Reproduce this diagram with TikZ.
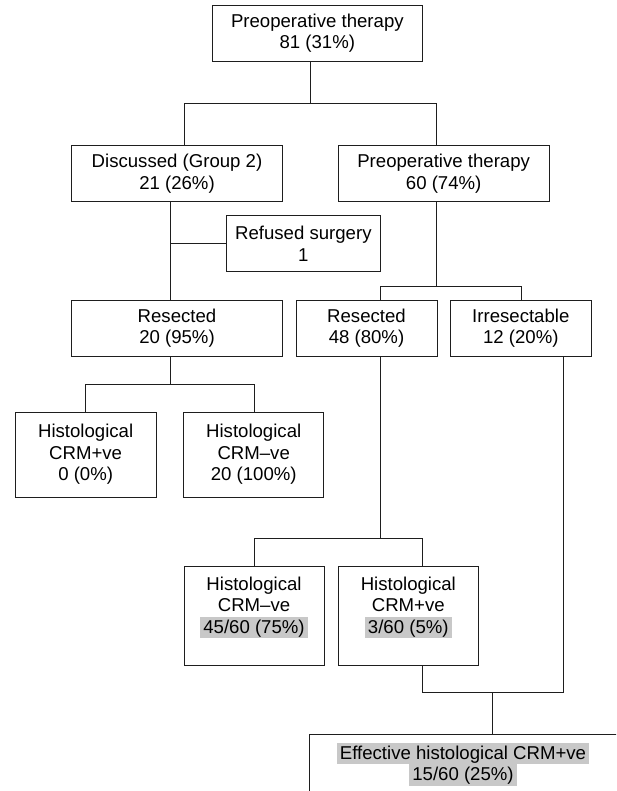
\documentclass[tikz,border=0pt]{standalone}
\usepackage{fontspec}
\setmainfont{Liberation Sans}
\usepackage{xcolor}
\usepackage{tikz}
\usetikzlibrary{calc}
\definecolor{boxline}  {RGB}{30,  30,  30}
\definecolor{shadegray}{RGB}{200, 200, 200}
\newcommand{\shadenum}[1]{{\setlength{\fboxsep}{0pt}\colorbox{shadegray}{\rule[-5pt]{0pt}{21.5pt}\kern3pt#1\kern3pt}}}
\tikzset{
  crmbox/.style={
    rectangle, draw=boxline, line width=0.9pt,
    inner sep=0pt, align=center,
    font=\fontsize{18.6}{21.5}\selectfont
  },
  crmtext/.style={
    rectangle, inner sep=0pt, align=center,
    font=\fontsize{18.6}{21.5}\selectfont
  },
  crmline/.style={
    draw=boxline, line width=0.9pt
  },
}

\begin{document}
\begin{tikzpicture}[x=1pt, y=-1pt]
  \clip (0,0) rectangle (616,791);
  \fill[white] (0,0) rectangle (616,791);

  \node[crmbox, minimum width=210.7, minimum height=56.3] (top) at (317.35,33.15)
        {Preoperative therapy\\81 (31\%)};
  \node[crmbox, minimum width=211.4, minimum height=56] (disc) at (177,173.7)
        {Discussed (Group 2)\\21 (26\%)};
  \node[crmbox, minimum width=210.7, minimum height=56] (prep) at (443.65,173.7)
        {Preoperative therapy\\60 (74\%)};
  \node[crmbox, minimum width=154.7, minimum height=56] (refused) at (303.35,243.7)
        {Refused surgery\\1};
  \node[crmbox, minimum width=211.4, minimum height=56] (resleft) at (177,328)
        {Resected\\20 (95\%)};
  \node[crmbox, minimum width=141, minimum height=56] (resright) at (366.5,328)
        {Resected\\48 (80\%)};
  \node[crmbox, minimum width=141, minimum height=56] (irres) at (520.8,328)
        {Irresectable\\12 (20\%)};
  \node[crmbox, minimum width=140.7, minimum height=85] (histlpos) at (85.65,454.5)
        {Histological\\CRM+ve\\0 (0\%)};
  \node[crmbox, minimum width=140, minimum height=85] (histlneg) at (253.7,454.5)
        {Histological\\CRM–ve\\20 (100\%)};
  \node[crmbox, minimum width=140, minimum height=98.3] (histrneg) at (254,615.85)
        {Histological\\CRM–ve\\\shadenum{45/60 (75\%)}\\\mbox{}};
  \node[crmbox, minimum width=140, minimum height=98.3] (histrpos) at (408.3,615.85)
        {Histological\\CRM+ve\\\shadenum{3/60 (5\%)}\\\mbox{}};
  \node[crmtext, minimum width=306, minimum height=58] (effective) at (463,764)
        {\shadenum{Effective histological CRM+ve}\\\shadenum{15/60 (25\%)}};
  \draw[crmline] ($(effective.south east)+(20,-2)$) -- ($(effective.south west)+(0,-2)$)
        -- (effective.north west) -- ($(effective.north east)+(20,0)$);

  \coordinate (jtop)  at (310,103.3);
  \coordinate (jtopl) at (184,103.3);
  \coordinate (jtopr) at (436.7,103.3);
  \draw[crmline] (top.south -| jtop) -- (jtop);
  \draw[crmline] (disc.north -| jtopl) -- (jtopl) -- (jtopr) -- (prep.north -| jtopr);

  \coordinate (jref) at (170.3,243.7);
  \draw[crmline] (disc.south -| jref) -- (resleft.north -| jref);
  \draw[crmline] (jref) -- (refused.west);

  \coordinate (jprep)  at (436.7,286);
  \coordinate (jprepl) at (380.7,286);
  \coordinate (jprepr) at (521.3,286);
  \draw[crmline] (prep.south -| jprep) -- (jprep);
  \draw[crmline] (resright.north -| jprepl) -- (jprepl) -- (jprepr) -- (irres.north -| jprepr);

  \coordinate (jresl)  at (170.3,384);
  \coordinate (jresll) at (85.7,384);
  \coordinate (jreslr) at (254.3,384);
  \draw[crmline] (resleft.south -| jresl) -- (jresl);
  \draw[crmline] (histlpos.north -| jresll) -- (jresll) -- (jreslr) -- (histlneg.north -| jreslr);

  \coordinate (jresr)  at (380.7,538);
  \coordinate (jresrl) at (254,538);
  \coordinate (jresrr) at (422.7,538);
  \draw[crmline] (resright.south -| jresr) -- (jresr);
  \draw[crmline] (histrneg.north -| jresrl) -- (jresrl) -- (jresrr) -- (histrpos.north -| jresrr);

  \coordinate (jeff)  at (492.7,692);
  \coordinate (jeffl) at (422.7,692);
  \coordinate (jeffr) at (563,692);
  \draw[crmline] (histrpos.south -| jeffl) -- (jeffl) -- (jeffr) -- (irres.south -| jeffr);
  \draw[crmline] (jeff) -- (effective.north -| jeff);
\end{tikzpicture}
\end{document}
